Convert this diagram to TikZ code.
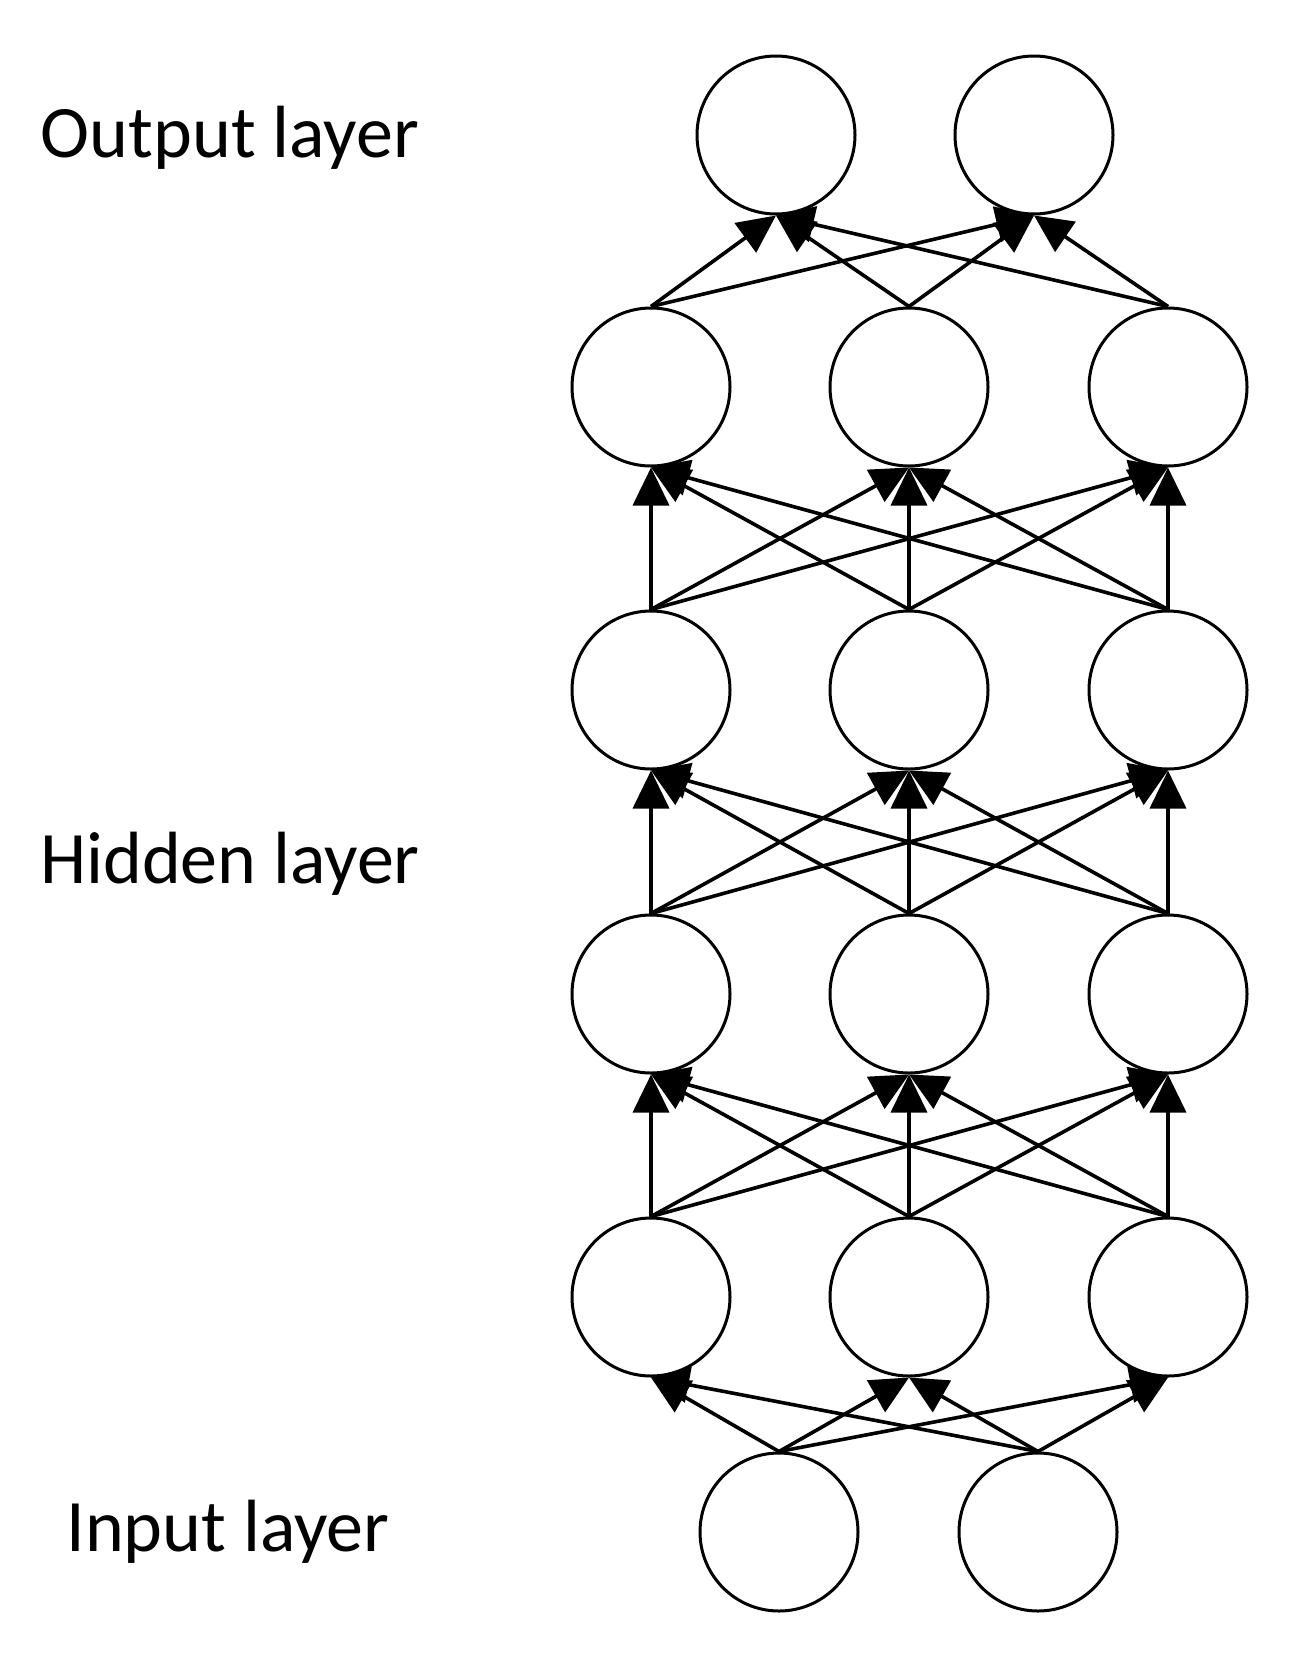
\documentclass[tikz,border=0pt]{standalone}
\usepackage{fontspec}
\setmainfont{Carlito}
\usetikzlibrary{arrows.meta}
\begin{document}
\begin{tikzpicture}[x=1pt,y=-1pt,
  neuron/.style={circle,draw,line width=3pt,minimum size=158pt,inner sep=0pt},
  edge/.style={line width=3.6pt,-{Triangle[length=38pt,width=36pt]}},
  lab/.style={font=\fontsize{74}{80}\selectfont}]
\useasboundingbox (0,0) rectangle (1301,1660);
\node[neuron] (o1) at (776,135) {};
\node[neuron] (o2) at (1034,135) {};
\foreach \r/\y in {1/387,2/690,3/994,4/1297}{
  \node[neuron] (h\r1) at (651,\y) {};
  \node[neuron] (h\r2) at (909,\y) {};
  \node[neuron] (h\r3) at (1168,\y) {};
}
\node[neuron] (i1) at (779,1532) {};
\node[neuron] (i2) at (1038,1532) {};
\foreach \a in {1,2}\foreach \b in {1,2,3}\draw[edge] (i\a.north) -- (h4\b.south);
\foreach \l/\u in {4/3,3/2,2/1}\foreach \a in {1,2,3}\foreach \b in {1,2,3}\draw[edge] (h\l\a.north) -- (h\u\b.south);
\foreach \a in {1,2,3}\foreach \b in {1,2}\draw[edge] (h1\a.north) -- (o\b.south);
\node[lab] (tout) at (230,138) {Output layer};
\node[lab] (thid) at (230,864) {Hidden layer};
\node[lab] (tin) at (228,1532) {Input layer};
\end{tikzpicture}
\end{document}
